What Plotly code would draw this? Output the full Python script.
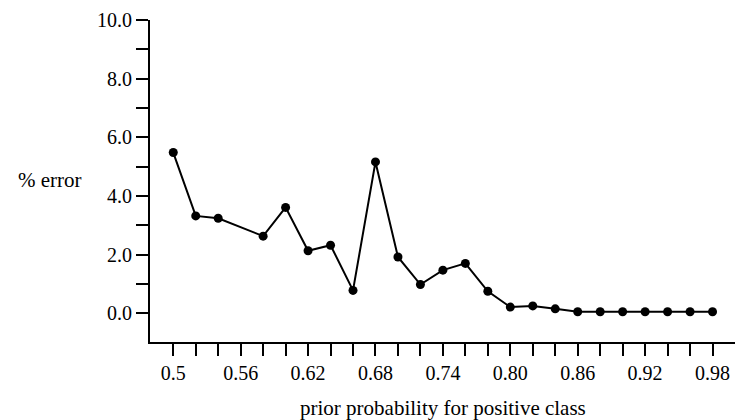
import plotly.graph_objects as go

prior = [0.50, 0.52, 0.54, 0.58, 0.60, 0.62, 0.64, 0.66, 0.68, 0.70, 0.72, 0.74,
         0.76, 0.78, 0.80, 0.82, 0.84, 0.86, 0.88, 0.90, 0.92, 0.94, 0.96, 0.98]
error_pct = [5.48, 3.32, 3.24, 2.63, 3.61, 2.13, 2.32, 0.78, 5.16, 1.92, 0.98, 1.47,
             1.70, 0.75, 0.21, 0.25, 0.15, 0.05, 0.05, 0.05, 0.05, 0.05, 0.05, 0.05]

x_tickvals = [round(0.50 + 0.02 * i, 2) for i in range(25)]
x_labels = ["0.5", "0.56", "0.62", "0.68", "0.74", "0.80", "0.86", "0.92", "0.98"]
y_tickvals = list(range(0, 11))
y_labels = ["0.0", "", "2.0", "", "4.0", "", "6.0", "", "8.0", "", "10.0"]

x_ticktext = []
li = 0
for i, v in enumerate(x_tickvals):
    if i % 3 == 0:
        x_ticktext.append(x_labels[li])
        li += 1
    else:
        x_ticktext.append("")

font = dict(family="Liberation Serif, Times New Roman, serif", size=20, color="black")
title_font = dict(family="Liberation Serif, Times New Roman, serif", size=21, color="black")

fig = go.Figure(go.Scatter(
    x=prior, y=error_pct, mode="lines+markers",
    line=dict(color="black", width=2),
    marker=dict(color="black", size=9),
    cliponaxis=False,
))

fig.update_layout(
    width=735, height=420,
    margin=dict(l=150, r=0, t=20, b=78, autoexpand=False),
    paper_bgcolor="white", plot_bgcolor="white",
    showlegend=False,
    font=font,
    xaxis=dict(range=[0.4793, 1.0], tickvals=x_tickvals, ticktext=x_ticktext,
               ticks="outside", ticklen=12, tickwidth=1.5, tickcolor="black",
               showline=True, linecolor="black", linewidth=1.8,
               showgrid=False, zeroline=False, tickfont=font, automargin=False),
    yaxis=dict(range=[-0.98, 10.0], tickvals=y_tickvals, ticktext=y_labels,
               ticks="outside", ticklen=12, tickwidth=1.5, tickcolor="black",
               showline=True, linecolor="black", linewidth=1.8,
               showgrid=False, zeroline=False, tickfont=font, automargin=False),
    annotations=[
        dict(text="% error", xref="paper", yref="paper", x=(50 - 150) / 585, y=(342 - 180) / 322,
             xanchor="center", yanchor="middle", showarrow=False, font=title_font),
        dict(text="prior probability for positive class", xref="paper", yref="paper",
             x=(443 - 150) / 585, y=(342 - 408) / 322, xanchor="center", yanchor="middle",
             showarrow=False, font=title_font),
    ],
)

fig.write_html("out.html", config={"displayModeBar": False},
               post_script="document.body.style.margin='0';document.body.style.overflow='hidden';")
